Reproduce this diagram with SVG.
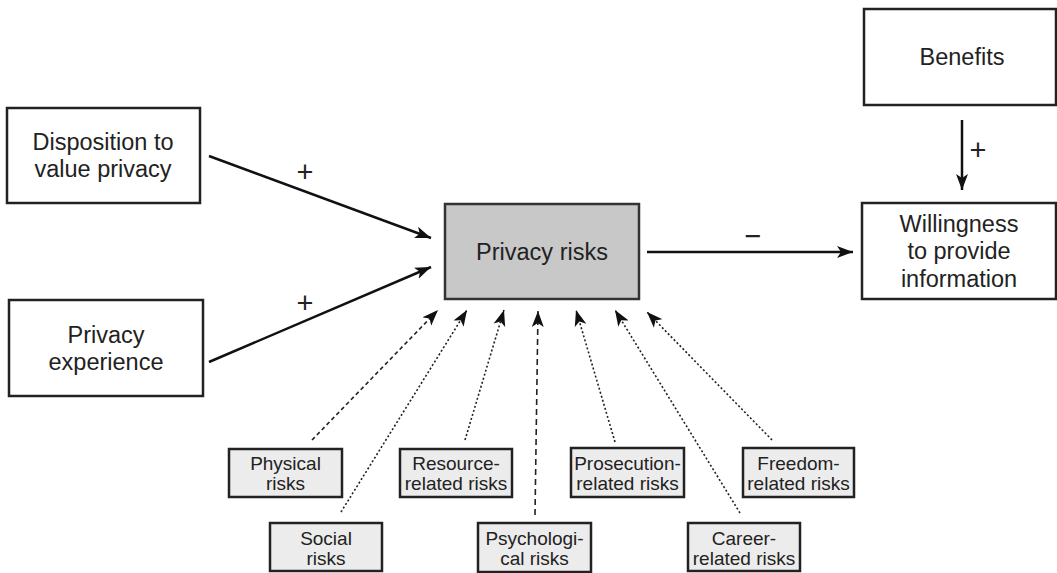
<svg xmlns="http://www.w3.org/2000/svg" width="1057" height="573" viewBox="0 0 1057 573">
<style>
text{font-family:"Liberation Sans",Arial,sans-serif;fill:#222;text-anchor:middle}
.big{font-size:23.5px}
.sm{font-size:19px}
.box{fill:#fff;stroke:#222;stroke-width:2.5}
.core{fill:#c8c8c8;stroke:#333;stroke-width:2.5}
.risk{fill:#ececec;stroke:#222;stroke-width:2.5}
.solid{stroke:#111;stroke-width:2.5;fill:none}
.dot{stroke:#222;stroke-width:1.6;fill:none;stroke-dasharray:2,2.2}
.dash{stroke:#222;stroke-width:1.6;fill:none;stroke-dasharray:4,3}
.ldash{stroke:#222;stroke-width:1.6;fill:none;stroke-dasharray:6,4}
.sign{font-size:29px}
</style>
<defs>
<marker id="ah" markerUnits="userSpaceOnUse" markerWidth="17" markerHeight="13" refX="16" refY="6.5" orient="auto">
<path d="M0,0.5 L16,6.5 L0,12.5 L4,6.5 Z" fill="#111"/>
</marker>
</defs>
<rect width="1057" height="573" fill="#fff"/>
<g id="connectors">
<line class="solid" x1="209" y1="156" x2="431" y2="238" marker-end="url(#ah)"/>
<line class="solid" x1="209" y1="362" x2="431" y2="267" marker-end="url(#ah)"/>
<line class="solid" x1="647" y1="252" x2="853" y2="252" marker-end="url(#ah)"/>
<line class="solid" x1="962" y1="120" x2="962" y2="190" marker-end="url(#ah)"/>
<line class="dash" x1="312" y1="440" x2="438" y2="310" marker-end="url(#ah)"/>
<line class="dot" x1="341" y1="512" x2="467" y2="310" marker-end="url(#ah)"/>
<line class="dot" x1="465" y1="440" x2="504" y2="310" marker-end="url(#ah)"/>
<line class="ldash" x1="535" y1="515" x2="538" y2="311" marker-end="url(#ah)"/>
<line class="dot" x1="615" y1="442" x2="576" y2="310" marker-end="url(#ah)"/>
<line class="dot" x1="740" y1="513" x2="615" y2="310" marker-end="url(#ah)"/>
<line class="dot" x1="772" y1="440" x2="647" y2="312" marker-end="url(#ah)"/>
<text class="sign" x="305" y="182">+</text>
<text class="sign" x="305" y="313">+</text>
<text class="sign" x="753" y="246">−</text>
<text class="sign" x="978" y="160">+</text>
</g>
<g id="disposition">
<rect class="box" x="7" y="108" width="193" height="95"/>
<text class="big" x="103" y="150">Disposition to</text>
<text class="big" x="103" y="177">value privacy</text>
</g>
<g id="experience">
<rect class="box" x="9" y="300" width="194" height="96"/>
<text class="big" x="106" y="343">Privacy</text>
<text class="big" x="106" y="370">experience</text>
</g>
<g id="privacy-risks">
<rect class="core" x="445" y="204" width="194" height="95"/>
<text class="big" x="542" y="260">Privacy risks</text>
</g>
<g id="benefits">
<rect class="box" x="864" y="9" width="192" height="96"/>
<text class="big" x="962" y="65">Benefits</text>
</g>
<g id="willingness">
<rect class="box" x="862" y="203" width="194" height="96"/>
<text class="big" x="959" y="232">Willingness</text>
<text class="big" x="959" y="259">to provide</text>
<text class="big" x="959" y="287">information</text>
</g>
<g id="physical">
<rect class="risk" x="229" y="449" width="113" height="48"/>
<text class="sm" x="285.5" y="470">Physical</text>
<text class="sm" x="285.5" y="490">risks</text>
</g>
<g id="social">
<rect class="risk" x="270" y="523" width="112" height="48"/>
<text class="sm" x="326" y="545">Social</text>
<text class="sm" x="326" y="565">risks</text>
</g>
<g id="resource">
<rect class="risk" x="400" y="449" width="112" height="48"/>
<text class="sm" x="456" y="470">Resource-</text>
<text class="sm" x="456" y="490">related risks</text>
</g>
<g id="psychological">
<rect class="risk" x="478" y="523" width="113" height="49"/>
<text class="sm" x="534.5" y="545">Psychologi-</text>
<text class="sm" x="534.5" y="565">cal risks</text>
</g>
<g id="prosecution">
<rect class="risk" x="571" y="448" width="113" height="49"/>
<text class="sm" x="627.5" y="470">Prosecution-</text>
<text class="sm" x="627.5" y="490">related risks</text>
</g>
<g id="career">
<rect class="risk" x="688" y="523" width="112" height="48"/>
<text class="sm" x="744" y="545">Career-</text>
<text class="sm" x="744" y="565">related risks</text>
</g>
<g id="freedom">
<rect class="risk" x="743" y="448" width="111" height="49"/>
<text class="sm" x="798.5" y="470">Freedom-</text>
<text class="sm" x="798.5" y="490">related risks</text>
</g>
</svg>
